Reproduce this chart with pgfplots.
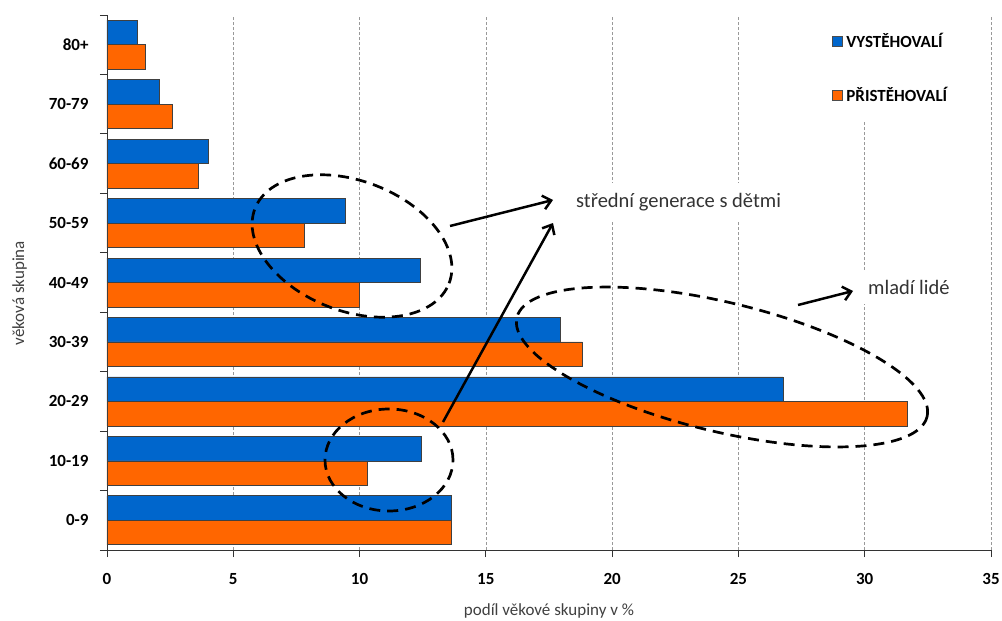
\documentclass[border=0pt]{standalone}
\usepackage{pgfplots}
\pgfplotsset{compat=1.18}
\usepackage{fontspec}
\setmainfont{Carlito}
\usetikzlibrary{arrows.meta}
\definecolor{cblue}{RGB}{0,102,204}
\definecolor{corange}{RGB}{255,102,0}
\definecolor{ctext}{RGB}{64,64,64}
\newcommand{\fs}{\fontsize{17}{20}\selectfont}
\newcommand{\fa}{\fontsize{20.5}{24}\selectfont}
\pgfplotsset{
  sqblue/.style={legend image code/.code={%
    \draw[fill=cblue, draw=black!70, line width=0.5pt] (0pt,-5pt) rectangle (10pt,5pt);}},
  sqorange/.style={legend image code/.code={%
    \draw[fill=corange, draw=black!70, line width=0.5pt] (0pt,-5pt) rectangle (10pt,5pt);}}}
\begin{document}
\begin{tikzpicture}
\useasboundingbox (0,0) rectangle (1002pt,-621pt);
\begin{axis}[
  at={(107pt,-550pt)}, anchor=south west,
  scale only axis, width=884pt, height=535pt,
  xmin=0, xmax=35, ymin=-0.5, ymax=8.5,
  xtick={0,5,...,35},
  ytick={0,...,8},
  yticklabels={0-9,10-19,20-29,30-39,40-49,50-59,60-69,70-79,80+},
  minor ytick={-0.5,0.5,...,8.5},
  axis x line*=bottom, axis y line*=left,
  axis line style={black!80, line width=0.8pt},
  tick align=outside, major tick length=7pt, minor tick length=7pt,
  every major y tick/.append style={draw=none},
  tick style={black!80, line width=0.8pt},
  xmajorgrids, grid style={densely dashed, gray!80, line width=0.5pt},
  /pgf/number format/assume math mode=true,
  ticklabel style={font=\bfseries\fs, text=black},
  yticklabel style={xshift=-8pt},
  xticklabel style={yshift=-13pt},
  xlabel={podíl věkové skupiny v \%},
  xlabel style={font=\fs, text=ctext, at={(axis description cs:0.5,0)}, anchor=center, yshift=-61pt},
  ylabel={věková skupina},
  ylabel style={font=\fs, text=ctext, at={(axis description cs:-0.099,0.48)}, anchor=center},
  legend style={at={(0.813,1)}, anchor=north west, draw=none, fill=white,
    font=\bfseries\fs, row sep=34pt, column sep=2pt, inner xsep=6pt, inner ysep=16pt},
  legend cell align=left,
  xbar, bar width=24.5pt,
]
\addplot[fill=cblue, draw=black!75, line width=0.6pt, bar shift=12.25pt, sqblue] coordinates {
(13.62,0) (12.46,1) (26.76,2) (17.95,3) (12.39,4) (9.45,5) (4.02,6) (2.07,7) (1.19,8)};
\addplot[fill=corange, draw=black!75, line width=0.6pt, bar shift=-12.25pt, sqorange] coordinates {
(13.62,0) (10.32,1) (31.68,2) (18.82,3) (9.98,4) (7.81,5) (3.63,6) (2.57,7) (1.51,8)};
\legend{VYSTĚHOVALÍ, PŘISTĚHOVALÍ}
\end{axis}
% annotations
\begin{scope}[line width=2.7pt, dash pattern=on 11pt off 7pt]
\draw[rotate around={-21:(352pt,-246pt)}] (352pt,-246pt) ellipse [x radius=104pt, y radius=65pt];
\draw (389pt,-460pt) ellipse [x radius=64pt, y radius=51pt];
\draw[rotate around={-13.6:(722pt,-367pt)}] (722pt,-367pt) ellipse [x radius=211pt, y radius=64.5pt];
\end{scope}
\begin{scope}[line width=2.5pt, -{Straight Barb[length=8pt,width=14pt]}]
\draw (450pt,-226pt) -- (553pt,-200pt);
\draw (443pt,-422pt) -- (553pt,-223pt);
\draw (798pt,-305pt) -- (853pt,-291pt);
\end{scope}
\node[fill=white, anchor=west, inner xsep=4pt, inner ysep=10pt, font=\fa, text=ctext!80!black] at (572pt,-202pt) {střední generace s dětmi};
\node[fill=white, anchor=west, inner xsep=4pt, inner ysep=10pt, font=\fa, text=ctext!80!black] at (864pt,-287pt) {mladí lidé};
\end{tikzpicture}
\end{document}
